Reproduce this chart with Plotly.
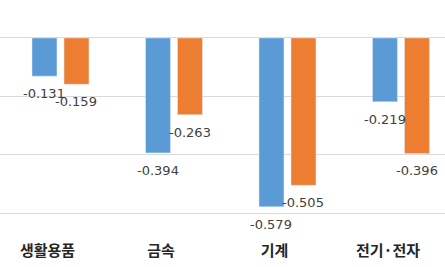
import plotly.graph_objects as go

categories = ["생활용품", "금속", "기계", "전기·전자"]
series_a = [-0.131, -0.394, -0.579, -0.219]
series_b = [-0.159, -0.263, -0.505, -0.396]

BLUE = "#5b9bd5"
ORANGE = "#ed7d31"
W = 0.22
OFF_A = -0.251
OFF_B = 0.031

fig = go.Figure()
fig.add_trace(go.Bar(x=categories, y=series_a, marker_color=BLUE, width=W, offset=OFF_A,
                     showlegend=False, hoverinfo="skip"))
fig.add_trace(go.Bar(x=categories, y=series_b, marker_color=ORANGE, width=W, offset=OFF_B,
                     showlegend=False, hoverinfo="skip"))

annos = []
for i, (a, b) in enumerate(zip(series_a, series_b)):
    for v, off in ((a, OFF_A), (b, OFF_B)):
        annos.append(dict(x=i + off + W / 2, y=v, xref="x", yref="y", text=f"{v:.3f}",
                          showarrow=False, yanchor="middle", yshift=-17.5,
                          font=dict(family="DejaVu Sans", size=13, color="#404040")))

fig.update_layout(
    width=445, height=267,
    margin=dict(l=0, r=0, t=0, b=54),
    paper_bgcolor="white", plot_bgcolor="white",
    barmode="overlay",
    annotations=annos,
    xaxis=dict(range=[-0.533, 3.388], showgrid=False, zeroline=False,
               showline=True, linecolor="#d9d9d9", linewidth=1,
               ticks="outside", ticklen=24, tickcolor="rgba(0,0,0,0)", ticklabelshift=-13,
               tickfont=dict(family="Noto Sans CJK KR", size=15, color="#262626", weight=700)),
    yaxis=dict(range=[-0.6, 0.130], showticklabels=False, showgrid=True,
               gridcolor="#d9d9d9", gridwidth=1, tick0=0, dtick=0.2,
               zeroline=True, zerolinecolor="#d9d9d9", zerolinewidth=1, showline=False),
)

fig.write_html("out.html")
